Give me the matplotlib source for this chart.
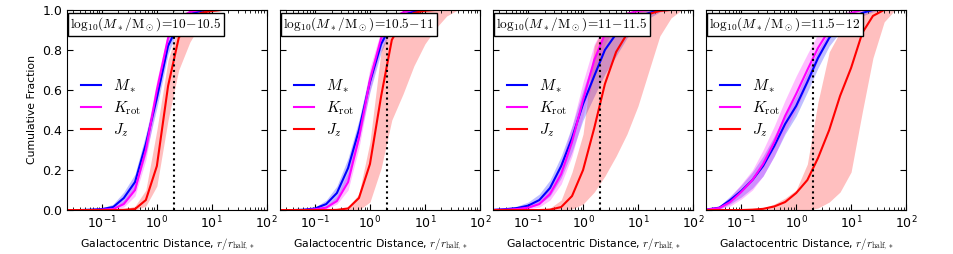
import matplotlib
matplotlib.use('Agg')
import matplotlib.pyplot as plt
import numpy as np

plt.rcParams['mathtext.fontset'] = 'cm'
plt.rcParams['font.family'] = ['DejaVu Sans']

# radius grid, r / r_half,*
r = [0.02, 0.04, 0.063, 0.1, 0.16, 0.25, 0.4, 0.63, 1.0, 1.6, 2.5, 4.0, 6.3, 10, 16, 25, 40, 63, 100]

bins = ['10-10.5', '10.5-11', '11-11.5', '11.5-12']
r_dot = 2.05

# cumulative fractions, one list per mass bin: median, lower, upper
mstar_med = [
    [0, 0, 0.002, 0.005, 0.015, 0.06, 0.14, 0.33, 0.56, 0.82, 0.93, 0.98, 0.995, 1, 1, 1, 1, 1, 1],
    [0, 0, 0.002, 0.008, 0.03, 0.085, 0.21, 0.40, 0.64, 0.83, 0.93, 0.975, 0.993, 1, 1, 1, 1, 1, 1],
    [0, 0.005, 0.01, 0.022, 0.05, 0.11, 0.22, 0.36, 0.53, 0.67, 0.80, 0.88, 0.935, 0.965, 0.985, 1, 1, 1, 1],
    [0, 0.012, 0.05, 0.095, 0.15, 0.22, 0.32, 0.43, 0.52, 0.64, 0.76, 0.86, 0.92, 0.955, 0.985, 1, 1, 1, 1],
]
mstar_lo = [
    [0, 0, 0, 0.002, 0.008, 0.035, 0.10, 0.28, 0.51, 0.78, 0.91, 0.97, 0.99, 1, 1, 1, 1, 1, 1],
    [0, 0, 0, 0.003, 0.015, 0.055, 0.16, 0.35, 0.59, 0.79, 0.905, 0.96, 0.985, 0.998, 1, 1, 1, 1, 1],
    [0, 0.001, 0.004, 0.01, 0.03, 0.07, 0.16, 0.29, 0.45, 0.57, 0.68, 0.77, 0.86, 0.92, 0.96, 0.99, 1, 1, 1],
    [0, 0.005, 0.03, 0.065, 0.11, 0.17, 0.27, 0.38, 0.47, 0.59, 0.71, 0.82, 0.89, 0.935, 0.97, 0.99, 1, 1, 1],
]
mstar_hi = [
    [0, 0, 0.004, 0.01, 0.03, 0.09, 0.18, 0.38, 0.61, 0.86, 0.95, 0.99, 1, 1, 1, 1, 1, 1, 1],
    [0, 0, 0.005, 0.015, 0.05, 0.12, 0.26, 0.45, 0.69, 0.87, 0.95, 0.985, 0.998, 1, 1, 1, 1, 1, 1],
    [0, 0.01, 0.02, 0.04, 0.08, 0.15, 0.27, 0.42, 0.60, 0.76, 0.88, 0.94, 0.97, 0.99, 1, 1, 1, 1, 1],
    [0, 0.02, 0.07, 0.125, 0.19, 0.27, 0.37, 0.48, 0.57, 0.69, 0.80, 0.89, 0.94, 0.97, 0.995, 1, 1, 1, 1],
]
krot_med = [
    [0, 0, 0, 0.002, 0.005, 0.03, 0.10, 0.30, 0.60, 0.86, 0.96, 0.99, 1, 1, 1, 1, 1, 1, 1],
    [0, 0, 0, 0.004, 0.012, 0.045, 0.14, 0.36, 0.65, 0.86, 0.955, 0.988, 1, 1, 1, 1, 1, 1, 1],
    [0, 0.002, 0.005, 0.012, 0.03, 0.08, 0.18, 0.34, 0.55, 0.75, 0.88, 0.95, 0.98, 0.995, 1, 1, 1, 1, 1],
    [0, 0.01, 0.04, 0.09, 0.15, 0.23, 0.34, 0.47, 0.58, 0.70, 0.81, 0.90, 0.955, 0.985, 1, 1, 1, 1, 1],
]
krot_lo = [
    [0, 0, 0, 0, 0.002, 0.015, 0.07, 0.25, 0.55, 0.83, 0.94, 0.98, 0.995, 1, 1, 1, 1, 1, 1],
    [0, 0, 0, 0.001, 0.006, 0.03, 0.10, 0.31, 0.60, 0.82, 0.93, 0.975, 0.995, 1, 1, 1, 1, 1, 1],
    [0, 0, 0.002, 0.005, 0.015, 0.05, 0.13, 0.27, 0.47, 0.67, 0.83, 0.92, 0.96, 0.985, 0.995, 1, 1, 1, 1],
    [0, 0.004, 0.02, 0.055, 0.10, 0.17, 0.27, 0.39, 0.50, 0.63, 0.75, 0.86, 0.93, 0.97, 0.99, 1, 1, 1, 1],
]
krot_hi = [
    [0, 0, 0, 0.004, 0.01, 0.05, 0.14, 0.36, 0.65, 0.89, 0.97, 0.995, 1, 1, 1, 1, 1, 1, 1],
    [0, 0, 0.002, 0.008, 0.02, 0.07, 0.19, 0.42, 0.71, 0.90, 0.975, 0.995, 1, 1, 1, 1, 1, 1, 1],
    [0, 0.005, 0.01, 0.025, 0.055, 0.12, 0.24, 0.42, 0.64, 0.83, 0.93, 0.975, 0.99, 1, 1, 1, 1, 1, 1],
    [0, 0.02, 0.065, 0.13, 0.20, 0.30, 0.42, 0.55, 0.67, 0.78, 0.88, 0.94, 0.98, 1, 1, 1, 1, 1, 1],
]
jz_med = [
    [0, 0, 0, 0, 0, 0.001, 0.005, 0.05, 0.22, 0.62, 0.86, 0.95, 0.985, 0.995, 1, 1, 1, 1, 1],
    [0, 0, 0, 0, 0, 0.001, 0.008, 0.06, 0.23, 0.57, 0.85, 0.95, 0.985, 0.996, 1, 1, 1, 1, 1],
    [0, 0, 0, 0, 0, 0.002, 0.015, 0.07, 0.20, 0.41, 0.63, 0.79, 0.88, 0.945, 0.98, 0.995, 1, 1, 1],
    [0, 0, 0, 0, 0.002, 0.006, 0.018, 0.04, 0.085, 0.15, 0.26, 0.40, 0.57, 0.71, 0.885, 0.97, 1, 1, 1],
]
jz_lo = [
    [0, 0, 0, 0, 0, 0, 0, 0.02, 0.12, 0.45, 0.70, 0.84, 0.93, 0.99, 1, 1, 1, 1, 1],
    [0, 0, 0, 0, 0, 0, 0, 0, 0.04, 0.21, 0.45, 0.58, 0.72, 0.83, 0.91, 0.97, 1, 1, 1],
    [0, 0, 0, 0, 0, 0, 0, 0.005, 0.03, 0.09, 0.17, 0.27, 0.38, 0.52, 0.70, 0.87, 0.96, 1, 1],
    [0, 0, 0, 0, 0, 0, 0, 0, 0, 0, 0.01, 0.04, 0.09, 0.19, 0.49, 0.76, 0.94, 1, 1],
]
jz_hi = [
    [0, 0, 0, 0, 0, 0.005, 0.02, 0.10, 0.40, 0.75, 0.92, 0.98, 0.995, 1, 1, 1, 1, 1, 1],
    [0, 0, 0, 0, 0, 0.003, 0.015, 0.08, 0.34, 0.80, 0.94, 0.985, 1, 1, 1, 1, 1, 1, 1],
    [0, 0, 0, 0, 0.002, 0.01, 0.05, 0.19, 0.38, 0.82, 0.93, 0.97, 0.99, 1, 1, 1, 1, 1, 1],
    [0, 0, 0, 0, 0.003, 0.01, 0.03, 0.06, 0.10, 0.23, 0.54, 0.79, 0.89, 0.95, 0.98, 1, 1, 1, 1],
]

fig, axes = plt.subplots(1, 4, figsize=(9.54, 2.54), dpi=100)
fig.subplots_adjust(left=0.0702, right=0.9497, bottom=0.173, top=0.961, wspace=0.0667)

for i, ax in enumerate(axes):
    ax.fill_between(r, mstar_lo[i], mstar_hi[i], color='b', alpha=0.25, lw=0)
    ax.fill_between(r, krot_lo[i], krot_hi[i], color='#ff00ff', alpha=0.25, lw=0)
    ax.fill_between(r, jz_lo[i], jz_hi[i], color='r', alpha=0.25, lw=0)
    ax.plot(r, mstar_med[i], color='b', lw=1.5, label=r'$M_*$')
    ax.plot(r, krot_med[i], color='#ff00ff', lw=1.5, label=r'$K_{\rm rot}$')
    ax.plot(r, jz_med[i], color='r', lw=1.5, label=r'$J_z$')
    ax.axvline(r_dot, color='k', ls=':', lw=1.5)

    ax.set_xscale('log')
    ax.set_xlim(0.0231, 100)
    ax.set_ylim(0, 1)
    ax.tick_params(which='both', direction='in', top=True, right=True, labelsize=9)
    ax.tick_params(which='major', length=4)
    ax.tick_params(which='minor', length=2)
    ax.set_xlabel(r'Galactocentric Distance, $r/r_{\rm half,*}$', fontsize=7.8)
    if i == 0:
        ax.set_ylabel('Cumulative Fraction', fontsize=7.8)
    else:
        ax.set_yticklabels([])

    lo_hi = bins[i].split('-')
    ax.text(0.016, 0.972, r'$\mathrm{log}_{10}(M_*/{\rm M}_\odot)\!=\!%s\!-\!%s$' % (lo_hi[0], lo_hi[1]),
            transform=ax.transAxes, ha='left', va='top', fontsize=9.6, zorder=10,
            bbox=dict(boxstyle='square,pad=0.2', fc='white', ec='black', lw=1))
    ax.legend(loc='center left', bbox_to_anchor=(0.0, 0.51), frameon=False, fontsize=11,
              handlelength=1.3, handletextpad=0.8, labelspacing=0.3)

fig.savefig('out.png', dpi=100)
